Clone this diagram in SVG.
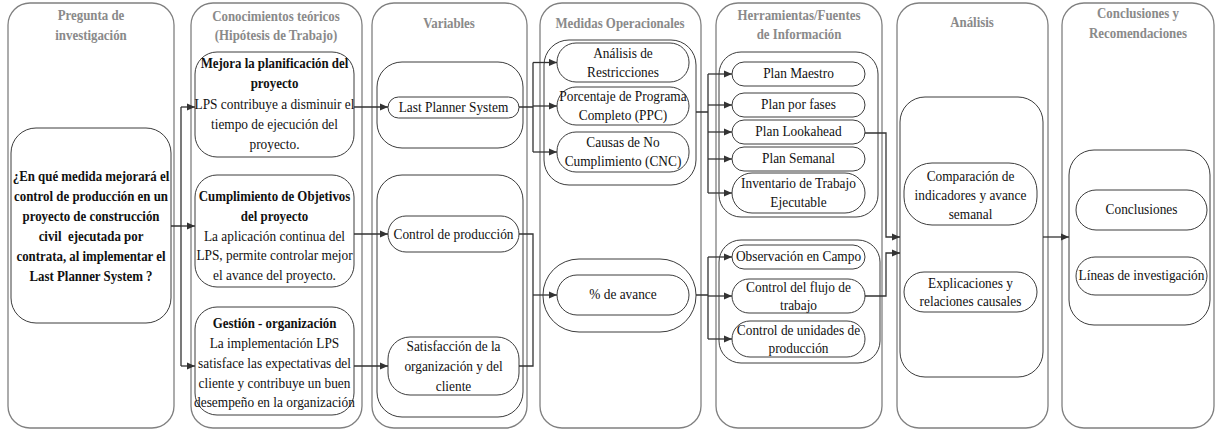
<svg xmlns="http://www.w3.org/2000/svg" width="1216" height="432" viewBox="0 0 1216 432">
  <defs>
    <style>
      .col{fill:#fff;stroke:#808080;stroke-width:1.3}
      .grp{fill:#fff;stroke:#3c3c3c;stroke-width:1}
      .nd{fill:#fff;stroke:#3c3c3c;stroke-width:1}
      text{font-family:"Liberation Serif","Times New Roman",serif;text-anchor:middle;fill:#111;transform-box:fill-box;transform-origin:center;transform:scaleX(0.92)}
      .ttl{font-size:14px;font-weight:bold;fill:#8a8a8a}
      .b{font-size:14px;font-weight:bold}
      .r{font-size:14.5px}
      .wire{fill:none;stroke:#333;stroke-width:1.3}
      .arr{fill:none;stroke:#333;stroke-width:1.3;marker-end:url(#ah)}
    </style>
    <marker id="ah" viewBox="0 0 10 10" refX="10" refY="5" markerWidth="9" markerHeight="8" markerUnits="userSpaceOnUse" orient="auto">
      <path d="M0,0.5 L10,5 L0,9.5 z" fill="#333"/>
    </marker>
  </defs>

  <rect width="1216" height="432" fill="#fff"/>

  <!-- column frames with headings -->
  <g id="col-pregunta">
    <rect class="col" x="8" y="3" width="166" height="425" rx="22"/>
    <text class="ttl" x="91" y="20">Pregunta de</text>
    <text class="ttl" x="91" y="40">investigación</text>
  </g>
  <g id="col-conocimientos">
    <rect class="col" x="191" y="3" width="171" height="425" rx="22"/>
    <text class="ttl" x="276" y="21">Conocimientos teóricos</text>
    <text class="ttl" x="276" y="40">(Hipótesis de Trabajo)</text>
  </g>
  <g id="col-variables">
    <rect class="col" x="372" y="3" width="155" height="425" rx="22"/>
    <text class="ttl" x="449" y="28">Variables</text>
  </g>
  <g id="col-medidas">
    <rect class="col" x="540" y="3" width="161" height="425" rx="22"/>
    <text class="ttl" x="620" y="28">Medidas Operacionales</text>
  </g>
  <g id="col-herramientas">
    <rect class="col" x="716" y="3" width="166" height="425" rx="22"/>
    <text class="ttl" x="799" y="20">Herramientas/Fuentes</text>
    <text class="ttl" x="799" y="39">de Información</text>
  </g>
  <g id="col-analisis">
    <rect class="col" x="897" y="3" width="151" height="425" rx="22"/>
    <text class="ttl" x="972" y="27">Análisis</text>
  </g>
  <g id="col-conclusiones">
    <rect class="col" x="1062" y="3" width="152" height="425" rx="22"/>
    <text class="ttl" x="1138" y="18">Conclusiones y</text>
    <text class="ttl" x="1138" y="38">Recomendaciones</text>
  </g>

  <!-- research question -->
  <g id="n-pregunta">
    <rect class="nd" x="11" y="128" width="160" height="195" rx="25"/>
    <text class="b" x="91" y="181">¿En qué medida mejorará el</text>
    <text class="b" x="91" y="201">control de producción en un</text>
    <text class="b" x="91" y="221">proyecto de construcción</text>
    <text class="b" x="91" y="241" xml:space="preserve">civil  ejecutada por</text>
    <text class="b" x="91" y="261">contrata, al implementar el</text>
    <text class="b" x="91" y="281">Last Planner System ?</text>
  </g>

  <!-- working hypotheses -->
  <g id="n-mejora">
    <rect class="nd" x="195" y="52" width="159" height="105" rx="22"/>
    <text class="b" x="274.5" y="68">Mejora la planificación del</text>
    <text class="b" x="274.5" y="88">proyecto</text>
    <text class="r" x="274.5" y="109">LPS contribuye a disminuir el</text>
    <text class="r" x="274.5" y="129">tiempo de ejecución del</text>
    <text class="r" x="274.5" y="149">proyecto.</text>
  </g>
  <g id="n-cumplimiento">
    <rect class="nd" x="195" y="175" width="159" height="112" rx="22"/>
    <text class="b" x="274.5" y="201">Cumplimiento de Objetivos</text>
    <text class="b" x="274.5" y="221">del proyecto</text>
    <text class="r" x="274.5" y="241">La aplicación continua del</text>
    <text class="r" x="274.5" y="260.5">LPS, permite controlar mejor</text>
    <text class="r" x="274.5" y="280">el avance del proyecto.</text>
  </g>
  <g id="n-gestion">
    <rect class="nd" x="195" y="307" width="159" height="108" rx="22"/>
    <text class="b" x="274.5" y="328.5">Gestión - organización</text>
    <text class="r" x="274.5" y="348">La implementación LPS</text>
    <text class="r" x="274.5" y="368">satisface las expectativas del</text>
    <text class="r" x="274.5" y="388">cliente y contribuye un buen</text>
    <text class="r" x="274.5" y="407.5">desempeño en la organización</text>
  </g>

  <!-- variables -->
  <g id="g-var-top"><rect class="grp" x="377" y="62" width="146" height="86" rx="25"/></g>
  <g id="g-var-bottom"><rect class="grp" x="377" y="175" width="146" height="242" rx="25"/></g>
  <g id="n-lps">
    <rect class="nd" x="388" y="97" width="131" height="21" rx="10.5"/>
    <text class="r" x="453.5" y="112">Last Planner System</text>
  </g>
  <g id="n-control">
    <rect class="nd" x="388" y="216" width="131" height="36" rx="18"/>
    <text class="r" x="453.5" y="239">Control de producción</text>
  </g>
  <g id="n-satisfaccion">
    <rect class="nd" x="388" y="337" width="131" height="58" rx="22"/>
    <text class="r" x="453.5" y="351">Satisfacción de la</text>
    <text class="r" x="453.5" y="371">organización y del</text>
    <text class="r" x="453.5" y="391">cliente</text>
  </g>

  <!-- operational measures -->
  <g id="g-med-top"><rect class="grp" x="544" y="40" width="152" height="145" rx="25"/></g>
  <g id="g-med-bottom"><rect class="grp" x="543" y="259" width="153" height="73" rx="36"/></g>
  <g id="n-restricciones">
    <rect class="nd" x="557" y="43" width="132" height="39" rx="19"/>
    <text class="r" x="623" y="58">Análisis de</text>
    <text class="r" x="623" y="77">Restricciones</text>
  </g>
  <g id="n-ppc">
    <rect class="nd" x="557" y="87" width="132" height="38" rx="19"/>
    <text class="r" x="623" y="101">Porcentaje de Programa</text>
    <text class="r" x="623" y="120">Completo (PPC)</text>
  </g>
  <g id="n-cnc">
    <rect class="nd" x="557" y="132" width="132" height="40" rx="19"/>
    <text class="r" x="623" y="147">Causas de No</text>
    <text class="r" x="623" y="166">Cumplimiento (CNC)</text>
  </g>
  <g id="n-avance">
    <rect class="nd" x="557" y="275" width="132" height="40" rx="20"/>
    <text class="r" x="623" y="299.5">% de avance</text>
  </g>

  <!-- tools / information sources -->
  <g id="g-her-top"><rect class="grp" x="719" y="52" width="159" height="165" rx="22"/></g>
  <g id="g-her-bottom"><rect class="grp" x="719" y="240" width="161" height="123" rx="22"/></g>
  <g id="n-maestro">
    <rect class="nd" x="732" y="62" width="133" height="24" rx="12"/>
    <text class="r" x="798.5" y="78.5">Plan Maestro</text>
  </g>
  <g id="n-fases">
    <rect class="nd" x="732" y="93" width="133" height="24" rx="12"/>
    <text class="r" x="798.5" y="109.5">Plan por fases</text>
  </g>
  <g id="n-lookahead">
    <rect class="nd" x="732" y="120" width="133" height="24" rx="12"/>
    <text class="r" x="798.5" y="136.5">Plan Lookahead</text>
  </g>
  <g id="n-semanal">
    <rect class="nd" x="732" y="147" width="133" height="24" rx="12"/>
    <text class="r" x="798.5" y="163.5">Plan Semanal</text>
  </g>
  <g id="n-inventario">
    <rect class="nd" x="732" y="173" width="133" height="40" rx="20"/>
    <text class="r" x="798.5" y="188">Inventario de Trabajo</text>
    <text class="r" x="798.5" y="207">Ejecutable</text>
  </g>
  <g id="n-observacion">
    <rect class="nd" x="732" y="245" width="133" height="24" rx="12"/>
    <text class="r" x="798.5" y="261.5">Observación en Campo</text>
  </g>
  <g id="n-flujo">
    <rect class="nd" x="732" y="279" width="133" height="34" rx="17"/>
    <text class="r" x="798.5" y="292">Control del flujo de</text>
    <text class="r" x="798.5" y="310">trabajo</text>
  </g>
  <g id="n-unidades">
    <rect class="nd" x="732" y="321" width="133" height="36" rx="18"/>
    <text class="r" x="798.5" y="335">Control de unidades de</text>
    <text class="r" x="798.5" y="353">producción</text>
  </g>

  <!-- analysis -->
  <g id="g-analisis"><rect class="grp" x="900" y="97" width="143" height="280" rx="25"/></g>
  <g id="n-comparacion">
    <rect class="nd" x="904" y="163" width="133" height="62" rx="28"/>
    <text class="r" x="970.5" y="181">Comparación de</text>
    <text class="r" x="970.5" y="200">indicadores y avance</text>
    <text class="r" x="970.5" y="219">semanal</text>
  </g>
  <g id="n-explicaciones">
    <rect class="nd" x="904" y="272" width="133" height="40" rx="20"/>
    <text class="r" x="970.5" y="288">Explicaciones y</text>
    <text class="r" x="970.5" y="306">relaciones causales</text>
  </g>

  <!-- conclusions -->
  <g id="g-conclusiones"><rect class="grp" x="1069" y="150" width="141" height="175" rx="25"/></g>
  <g id="n-conclusiones">
    <rect class="nd" x="1076" y="190" width="131" height="40" rx="20"/>
    <text class="r" x="1141.5" y="214.5">Conclusiones</text>
  </g>
  <g id="n-lineas">
    <rect class="nd" x="1076" y="257" width="131" height="38" rx="19"/>
    <text class="r" x="1141.5" y="280.5">Líneas de investigación</text>
  </g>

  <!-- connectors -->
  <g id="connectors">
    <path class="wire" d="M171,226 H181 M181,107 V366"/>
    <path class="arr" d="M181,107 H195"/>
    <path class="arr" d="M181,226 H195"/>
    <path class="arr" d="M181,366 H195"/>

    <path class="arr" d="M354,107 H388"/>
    <path class="arr" d="M354,234 H388"/>
    <path class="arr" d="M354,366 H388"/>

    <path class="wire" d="M519,107 H533 M533,62.5 V152"/>
    <path class="arr" d="M533,62.5 H557"/>
    <path class="arr" d="M533,106 H557"/>
    <path class="arr" d="M533,152 H557"/>

    <path class="wire" d="M519,234 H533 V366 H519"/>
    <path class="arr" d="M533,295 H557"/>

    <path class="wire" d="M696,112 H708 M708,74 V193"/>
    <path class="arr" d="M708,74 H732"/>
    <path class="arr" d="M708,105 H732"/>
    <path class="arr" d="M708,132 H732"/>
    <path class="arr" d="M708,159 H732"/>
    <path class="arr" d="M708,193 H732"/>

    <path class="wire" d="M696,295 H708 M708,257 V339"/>
    <path class="arr" d="M708,257 H732"/>
    <path class="arr" d="M708,296 H732"/>
    <path class="arr" d="M708,339 H732"/>

    <path class="arr" d="M865,133 H886 V237 H900"/>
    <path class="arr" d="M865,296 H886 V253 H900"/>

    <path class="arr" d="M1043,237 H1069"/>
  </g>
</svg>
